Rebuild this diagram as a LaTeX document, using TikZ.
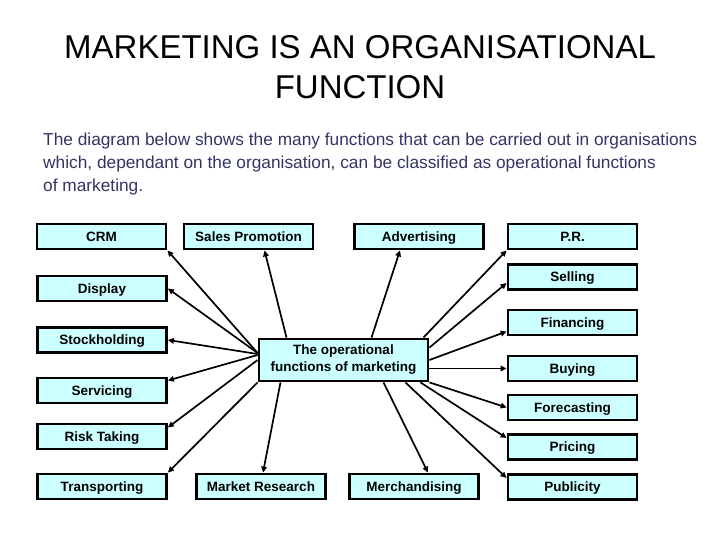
\documentclass[tikz,border=0pt]{standalone}
\usepackage{fontspec}
\setmainfont{Liberation Sans}
\usetikzlibrary{arrows.meta}
\definecolor{boxcyan}{RGB}{204,255,255}
\definecolor{textnavy}{RGB}{51,51,102}

\begin{document}
\begin{tikzpicture}[x=1pt,y=-1pt,
  fnbox/.style={draw, line width=2.8pt, fill=boxcyan, inner sep=0pt, font=\fontsize{13.5}{17}\selectfont\bfseries},
  box/.style={fnbox, minimum width=129pt, minimum height=25pt, text height=12.6pt, text depth=2.9pt},
  arr/.style={-{Triangle[length=6pt,width=5.5pt]}, line width=1.7pt}]
\useasboundingbox (0,0) rectangle (720,540);

\node[align=center, font=\fontsize{33}{40}\selectfont] (title) at (360,67) {MARKETING IS AN ORGANISATIONAL\\FUNCTION};
\node[anchor=north west, align=left, inner sep=0pt, text=textnavy, font=\fontsize{17.3}{23}\selectfont] (intro) at (43,133)
  {The diagram below shows the many functions that can be carried out in organisations\\which, dependant on the organisation, can be classified as operational functions\\of marketing.};

\node[box] (crm) at (101.5,236.5) {CRM};
\node[box] (salespromo) at (248.5,236.5) {Sales Promotion};
\node[box] (adv) at (419,236.5) {Advertising};
\node[box] (pr) at (572.5,236.5) {P.R.};

\node[box] (display) at (102,288.5) {Display};
\node[box] (stock) at (102,340) {Stockholding};
\node[box] (servicing) at (102,390.5) {Servicing};
\node[box] (risk) at (102,436.5) {Risk Taking};
\node[box] (transport) at (102,486.5) {Transporting};

\node[box] (selling) at (572.5,277) {Selling};
\node[box] (financing) at (572.5,322.5) {Financing};
\node[box] (buying) at (572.5,368.5) {Buying};
\node[box] (forecast) at (572.5,407.5) {Forecasting};
\node[box] (pricing) at (572.5,447) {Pricing};
\node[box] (publicity) at (572.5,487) {Publicity};

\node[box] (marketres) at (261,486.5) {Market Research};
\node[box] (merch) at (414,486.5) {Merchandising};

\node[fnbox, minimum width=169pt, minimum height=42pt, align=center] (centre) at (343.5,360) {The operational\\functions of marketing};

% left side
\draw[arr] ([yshift=7pt]centre.west) -- (crm.south east);
\draw[arr] ([yshift=7pt]centre.west) -- (display.east);
\draw[arr] ([yshift=6pt]centre.west) -- (stock.east);
\draw[arr] ([yshift=5pt]centre.west) -- ([yshift=10pt]servicing.east);
\draw[arr] (centre.west) -- ([yshift=9pt]risk.east);
\draw[arr] (centre.south west) -- (transport.north east);

% top and bottom
\draw[arr] ([xshift=-57pt]centre.north) -- ([xshift=16pt]salespromo.south);
\draw[arr] ([xshift=28pt]centre.north) -- ([xshift=-19pt]adv.south);
\draw[arr] ([xshift=-63pt]centre.south) -- ([xshift=2pt]marketres.north);
\draw[arr] ([xshift=40pt]centre.south) -- ([xshift=14pt]merch.north);

% right side
\draw[arr] ([xshift=-6pt]centre.north east) -- (pr.south west);
\draw[arr] ([yshift=-10pt]centre.north east) -- ([yshift=-6pt]selling.west);
\draw[arr] (centre.east) -- ([yshift=-9pt]financing.west);
\draw[arr] (buying.west -| centre.east) -- (buying.west);
\draw[arr] (centre.south east) -- (forecast.west);
\draw[arr] ([xshift=-9pt]centre.south east) -- ([yshift=9pt]pricing.west);
\draw[arr] ([xshift=-24pt]centre.south east) -- ([yshift=9pt]publicity.west);
\end{tikzpicture}
\end{document}
